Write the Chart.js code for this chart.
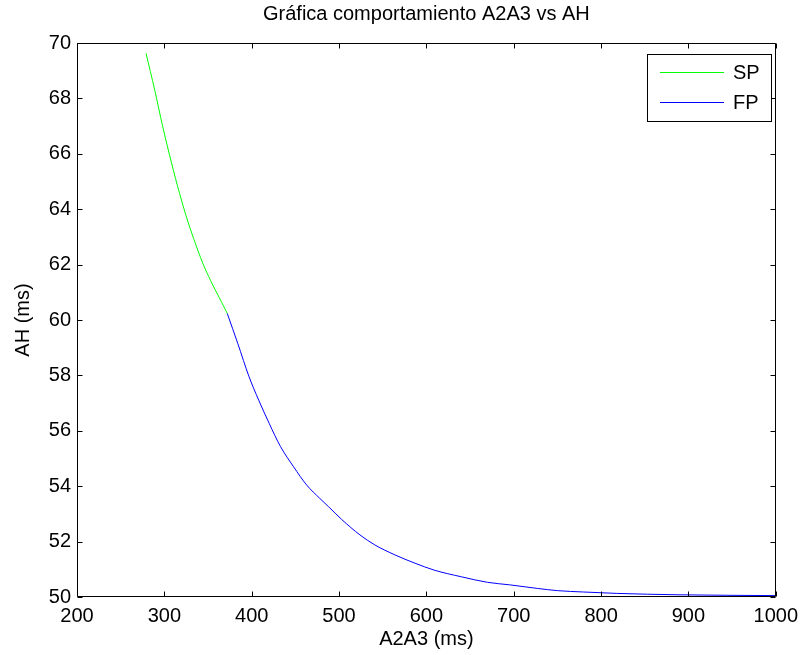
<!DOCTYPE html>
<html>
<head>
<meta charset="utf-8">
<script src="https://cdn.jsdelivr.net/npm/chart.js@4/dist/chart.umd.min.js"></script>
<style>
  html, body { margin: 0; padding: 0; background: #fff; }
  #wrap { width: 805px; height: 655px; }
</style>
</head>
<body>
<div id="wrap"><canvas id="c" width="805" height="655"></canvas></div>
<script>
// ---- data ----
const chartTitle = 'Gráfica comportamiento A2A3 vs AH';
const xTitle = 'A2A3 (ms)';
const yTitle = 'AH (ms)';
const xTicks = [200, 300, 400, 500, 600, 700, 800, 900, 1000];
const yTicks = [50, 52, 54, 56, 58, 60, 62, 64, 66, 68, 70];

const spLabel = 'SP';
const spX = [279, 289, 298, 306, 315, 325, 334, 344, 353, 363, 372];
const spY = [69.63, 68.30, 67.00, 65.95, 64.85, 63.75, 62.90, 62.05, 61.42, 60.80, 60.24];

const fpLabel = 'FP';
const fpX = [372, 384, 397, 408, 420, 433, 448, 463, 478, 488, 503, 524, 541, 564, 587, 609, 640, 670, 695, 727, 750, 780, 818, 888, 1000];
const fpY = [60.24, 59.16, 57.95, 57.11, 56.27, 55.43, 54.70, 54.04, 53.56, 53.26, 52.80, 52.24, 51.88, 51.52, 51.22, 50.97, 50.73, 50.53, 50.44, 50.31, 50.23, 50.18, 50.13, 50.08, 50.05];

const toPts = (xs, ys) => xs.map((x, i) => ({x: x, y: ys[i]}));

const FONT = 'Arial, "Liberation Sans", Helvetica, sans-serif';
const FS = 20;
Chart.defaults.font.family = FONT;
Chart.defaults.color = '#000';

// inward ticks on all four sides + box
const boxTicks = {
  id: 'boxTicks',
  afterDatasetsDraw(chart) {
    const {ctx, chartArea: a, scales: {x, y}} = chart;
    ctx.save();
    ctx.strokeStyle = '#000';
    ctx.lineWidth = 1;
    const L = Math.round(a.left) + 0.5, R = Math.round(a.right) - 0.5;
    const T = Math.round(a.top) + 0.5, B = Math.round(a.bottom) - 0.5;
    ctx.beginPath();
    ctx.rect(L, T, R - L, B - T);
    const tl = 5;
    xTicks.forEach(v => {
      const px = Math.round(x.getPixelForValue(v)) + 0.5;
      ctx.moveTo(px, B); ctx.lineTo(px, B - tl);
      ctx.moveTo(px, T); ctx.lineTo(px, T + tl);
    });
    yTicks.forEach(v => {
      const py = Math.round(y.getPixelForValue(v)) + 0.5;
      ctx.moveTo(L, py); ctx.lineTo(L + tl, py);
      ctx.moveTo(R, py); ctx.lineTo(R - tl, py);
    });
    ctx.stroke();
    ctx.restore();
  }
};

// MATLAB-style legend box in the upper right
const boxLegend = {
  id: 'boxLegend',
  afterDraw(chart) {
    const {ctx} = chart;
    ctx.save();
    const bx = 647.5, by = 54.5, bw = 124, bh = 67;
    ctx.fillStyle = '#fff';
    ctx.fillRect(bx, by, bw, bh);
    ctx.strokeStyle = '#000';
    ctx.lineWidth = 1;
    ctx.strokeRect(bx, by, bw, bh);
    ctx.font = FS + 'px ' + FONT;
    ctx.textBaseline = 'middle';
    ctx.textAlign = 'left';
    chart.data.datasets.forEach((ds, i) => {
      const yy = 72.5 + i * 30;
      ctx.strokeStyle = ds.borderColor;
      ctx.beginPath();
      ctx.moveTo(660, yy); ctx.lineTo(724, yy);
      ctx.stroke();
      ctx.fillStyle = '#000';
      ctx.fillText(ds.label, 733, yy + 1);
    });
    ctx.restore();
  }
};

new Chart(document.getElementById('c'), {
  type: 'scatter',
  data: {
    datasets: [
      { label: spLabel, data: toPts(spX, spY), showLine: true, borderColor: '#00ff00', borderWidth: 1, pointRadius: 0, cubicInterpolationMode: 'monotone', fill: false },
      { label: fpLabel, data: toPts(fpX, fpY), showLine: true, borderColor: '#0000ff', borderWidth: 1, pointRadius: 0, cubicInterpolationMode: 'monotone', fill: false }
    ]
  },
  options: {
    responsive: false,
    animation: false,
    devicePixelRatio: 1,
    layout: { padding: { left: 0, right: 25, top: 0, bottom: 0 } },
    plugins: {
      legend: { display: false },
      tooltip: { enabled: false },
      title: {
        display: true,
        fullSize: false,
        text: chartTitle,
        font: { size: FS, weight: 'normal', family: FONT },
        color: '#000',
        padding: { top: 2, bottom: 17 }
      }
    },
    scales: {
      x: {
        type: 'linear',
        min: 200, max: 1000,
        afterBuildTicks(s) { s.ticks = xTicks.map(v => ({value: v})); },
        afterFit(s) { s.height = 58; },
        grid: { display: false, drawTicks: false },
        border: { display: false },
        ticks: { padding: 7, font: { size: FS }, color: '#000', maxRotation: 0, autoSkip: false, callback: v => String(v) },
        title: { display: true, text: xTitle, font: { size: FS }, color: '#000', padding: { top: 0, bottom: 4 } }
      },
      y: {
        type: 'linear',
        min: 50, max: 70,
        afterBuildTicks(s) { s.ticks = yTicks.map(v => ({value: v})); },
        afterFit(s) { s.width = 77; },
        grid: { display: false, drawTicks: false },
        border: { display: false },
        ticks: { padding: 6, font: { size: FS }, color: '#000', autoSkip: false, callback: v => String(v) },
        title: { display: true, text: yTitle, font: { size: FS }, color: '#000', padding: { top: 11, bottom: 0 } }
      }
    }
  },
  plugins: [boxTicks, boxLegend]
});
</script>
</body>
</html>
